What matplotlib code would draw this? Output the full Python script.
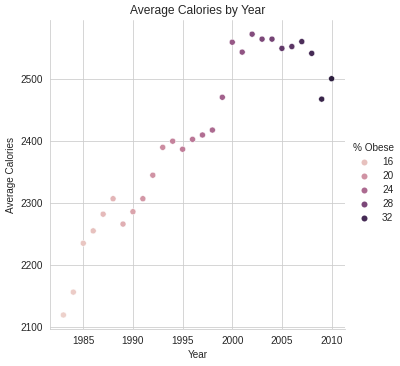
import numpy as np
import pandas as pd
import seaborn as sns
import matplotlib.pyplot as plt

years = list(range(1983, 2011))
calories = [2119, 2156, 2235, 2255, 2282, 2307, 2266, 2286, 2307, 2345,
            2390, 2400, 2387, 2403, 2410, 2418, 2471, 2560, 2544, 2573,
            2565, 2565, 2550, 2553, 2561, 2542, 2468, 2501]
obese = [14.5, 15.0, 15.5, 16.0, 16.5, 17.0, 17.5, 18.5, 19.5, 20.0,
         20.5, 21.5, 22.0, 22.5, 23.5, 24.0, 25.0, 26.0, 26.5, 27.5,
         28.0, 28.5, 30.0, 30.5, 31.5, 32.0, 33.0, 34.0]

df = pd.DataFrame({'Year': years, 'Average Calories': calories, '% Obese': obese})

sns.set_style('whitegrid')
plt.rcParams['font.family'] = ['Liberation Sans', 'DejaVu Sans']
g = sns.relplot(data=df, x='Year', y='Average Calories', hue='% Obese', height=5)
g.ax.set_title('Average Calories by Year')
g.figure.set_size_inches(400 / 72, 366 / 72)
g.figure.subplots_adjust(left=0.125, right=0.8625, top=0.945, bottom=0.101)
sns.move_legend(g, 'center right', bbox_to_anchor=(1.008, 0.5), labelspacing=0.4,
                frameon=False, title='% Obese')
g.figure.savefig('out.png', dpi=72)
